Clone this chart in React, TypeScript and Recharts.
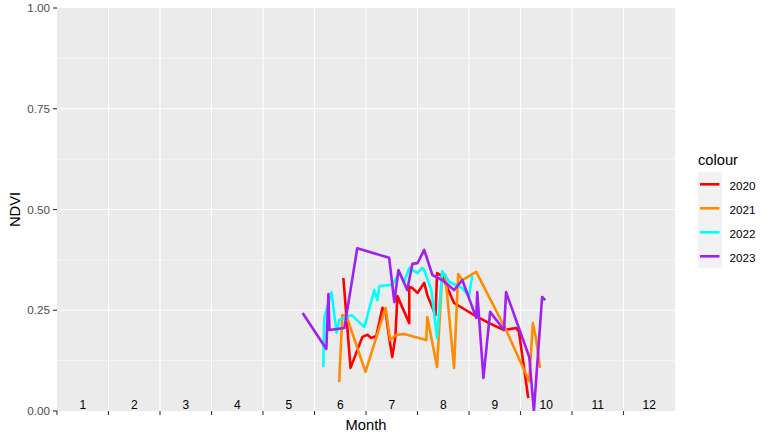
import {
  ComposedChart,
  Line,
  Scatter,
  XAxis,
  YAxis,
  ReferenceArea,
  ReferenceLine,
  Legend,
} from "recharts";

// month position (fractional month from Jan 1) and NDVI per year
const m2020 = [5.56, 5.7, 5.93, 6.03, 6.1, 6.2, 6.32, 6.38, 6.45, 6.51, 6.57, 6.61, 6.84, 6.84, 6.9, 7.0, 7.13, 7.19, 7.35, 7.38, 7.48, 7.71, 8.1, 8.39, 8.68, 8.92, 8.97, 9.11, 9.15];
const v2020 = [0.33, 0.107, 0.184, 0.189, 0.181, 0.186, 0.256, 0.248, 0.181, 0.134, 0.184, 0.285, 0.218, 0.308, 0.305, 0.293, 0.318, 0.288, 0.238, 0.342, 0.335, 0.268, 0.238, 0.218, 0.201, 0.206, 0.196, 0.069, 0.032];

const m2021 = [5.48, 5.54, 5.62, 5.99, 6.38, 6.47, 6.59, 6.74, 7.17, 7.19, 7.38, 7.48, 7.54, 7.71, 7.79, 7.87, 8.14, 8.72, 9.17, 9.24, 9.3, 9.38];
const v2021 = [0.072, 0.238, 0.236, 0.097, 0.256, 0.176, 0.189, 0.191, 0.176, 0.233, 0.109, 0.342, 0.337, 0.107, 0.34, 0.325, 0.345, 0.201, 0.074, 0.218, 0.181, 0.107];

const m2022 = [5.17, 5.19, 5.33, 5.43, 5.48, 5.72, 5.97, 6.16, 6.22, 6.26, 6.51, 6.65, 6.74, 6.84, 7.0, 7.09, 7.13, 7.27, 7.38, 7.48, 7.62, 7.87, 8.0, 8.06];
const v2022 = [0.109, 0.231, 0.295, 0.194, 0.226, 0.238, 0.208, 0.3, 0.275, 0.31, 0.313, 0.342, 0.32, 0.355, 0.342, 0.355, 0.35, 0.3, 0.181, 0.347, 0.32, 0.305, 0.285, 0.335];

const m2023 = [4.77, 5.23, 5.27, 5.29, 5.58, 5.83, 6.45, 6.55, 6.63, 6.8, 6.9, 7.0, 7.13, 7.29, 7.48, 7.71, 7.87, 8.14, 8.16, 8.28, 8.41, 8.68, 8.72, 9.17, 9.26, 9.42, 9.48];
const v2023 = [0.243, 0.154, 0.29, 0.201, 0.206, 0.404, 0.38, 0.27, 0.35, 0.3, 0.365, 0.367, 0.4, 0.337, 0.325, 0.3, 0.325, 0.231, 0.295, 0.082, 0.246, 0.201, 0.295, 0.134, 0.0, 0.283, 0.275];

const years = ["2020", "2021", "2022", "2023"];
const colors = ["#FF0000", "#FF8C00", "#00FFFF", "#A020F0"];
const monthLabels = ["1", "2", "3", "4", "5", "6", "7", "8", "9", "10", "11", "12"];
const xBreaks = [0, 1, 2, 3, 4, 5, 6, 7, 8, 9, 10, 11];
const yBreaks = [0, 0.25, 0.5, 0.75, 1];
const yMinor = [0.125, 0.375, 0.625, 0.875];

const toRows = (ms: number[], vs: number[]) => ms.map((m, i) => ({ m, v: vs[i] }));
const seriesData = [
  toRows(m2020, v2020),
  toRows(m2021, v2021),
  toRows(m2022, v2022),
  toRows(m2023, v2023),
];
const labelData = monthLabels.map((label, i) => ({ m: i + 0.5, v: 0, label }));

const FONT = "'Liberation Sans', Arial, sans-serif";

function MonthLabel(props: any) {
  const { cx, cy, payload } = props;
  return (
    <text x={cx} y={cy - 2.5} textAnchor="middle" fontSize={12} fill="#000" fontFamily={FONT}>
      {payload.label}
    </text>
  );
}

function LegendBox() {
  return (
    <svg width={83} height={135} style={{ display: "block" }}>
      <text x={8} y={25} fontSize={14.7} fill="#000" fontFamily={FONT}>
        colour
      </text>
      <rect x={8} y={31.7} width={24} height={96} fill="#F2F2F2" />
      {years.map((y, i) => (
        <g key={y}>
          <line x1={10} x2={29.5} y1={44.3 + i * 24} y2={44.3 + i * 24} stroke={colors[i]} strokeWidth={2.6} />
          <text x={39.5} y={50 + i * 24} fontSize={11.7} fill="#000" fontFamily={FONT}>
            {y}
          </text>
        </g>
      ))}
    </svg>
  );
}

export default function App() {
  return (
    <div style={{ position: "absolute", left: 0, top: 0, background: "#fff" }}>
      <ComposedChart
        width={773}
        height={442}
        margin={{ top: 8, right: 98, bottom: 7, left: 5 }}
        style={{ fontFamily: FONT }}
      >
        <ReferenceArea x1={0} x2={12} y1={0} y2={1} fill="#EBEBEB" fillOpacity={1} stroke="none" ifOverflow="hidden" />
        {yMinor.map((y) => (
          <ReferenceLine key={"n" + y} y={y} stroke="#FFFFFF" strokeWidth={0.55} />
        ))}
        {yBreaks.slice(1, 4).map((y) => (
          <ReferenceLine key={"y" + y} y={y} stroke="#FFFFFF" strokeWidth={1.1} />
        ))}
        {xBreaks.slice(1).map((x) => (
          <ReferenceLine key={"x" + x} x={x} stroke="#FFFFFF" strokeWidth={1.1} />
        ))}
        <XAxis
          dataKey="m"
          type="number"
          domain={[0, 12]}
          ticks={xBreaks}
          tickFormatter={() => ""}
          axisLine={false}
          tickSize={4}
          tickLine={{ stroke: "#333333", strokeWidth: 1.1 }}
          height={24}
          allowDataOverflow
          label={{ value: "Month", position: "insideBottom", offset: 5, fontSize: 14.7, fill: "#000" }}
        />
        <YAxis
          dataKey="v"
          type="number"
          domain={[0, 1]}
          ticks={yBreaks}
          tickFormatter={(v: number) => v.toFixed(2)}
          axisLine={false}
          tickSize={4}
          tickMargin={3}
          tickLine={{ stroke: "#333333", strokeWidth: 1.1 }}
          tick={{ fontSize: 11.7, fill: "#4D4D4D" }}
          width={52}
          allowDataOverflow
          label={{
            content: (p: any) => {
              const vb = p.viewBox;
              const cx = vb.x + 10;
              const cy = vb.y + vb.height / 2;
              return (
                <text
                  x={cx}
                  y={cy}
                  transform={`rotate(-90 ${cx} ${cy})`}
                  textAnchor="middle"
                  dy="0.355em"
                  fontSize={14.7}
                  fill="#000"
                  fontFamily={FONT}
                >
                  NDVI
                </text>
              );
            },
          }}
        />
        {seriesData.map((d, i) => (
          <Line
            key={years[i]}
            data={d}
            dataKey="v"
            name={years[i]}
            type="linear"
            stroke={colors[i]}
            strokeWidth={2.6}
            strokeLinejoin="round"
            dot={false}
            activeDot={false}
            isAnimationActive={false}
          />
        ))}
        <Scatter data={labelData} dataKey="v" shape={MonthLabel} legendType="none" isAnimationActive={false} />
        <Legend
          layout="vertical"
          align="center"
          verticalAlign="middle"
          content={() => <LegendBox />}
          wrapperStyle={{ position: "absolute", left: 690, top: 140, width: 83, height: 135 }}
        />
      </ComposedChart>
    </div>
  );
}
